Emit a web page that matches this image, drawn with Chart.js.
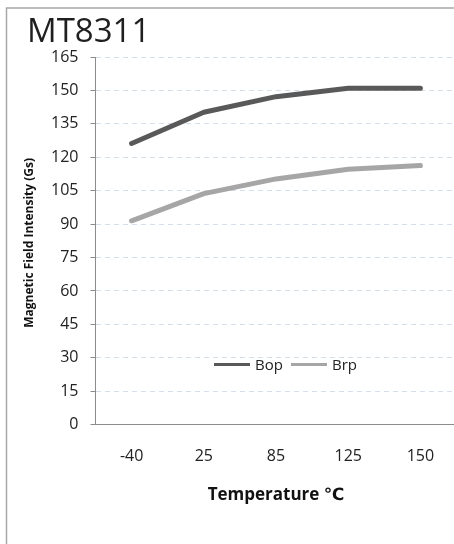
<!DOCTYPE html>
<html>
<head>
<meta charset="utf-8">
<script src="https://cdn.jsdelivr.net/npm/chart.js@4"></script>
<style>
html,body{margin:0;padding:0;background:#fff;overflow:hidden;width:454px;height:544px;}
canvas{display:block;}
</style>
</head>
<body>
<canvas id="c" width="460" height="544"></canvas>
<script>
const chartTitle = 'MT8311';
const xTitle = 'Temperature \u2103';
const yTitle = 'Magnetic Field Intensity (Gs)';
const categories = ['-40', '25', '85', '125', '150'];
const seriesNames = ['Bop', 'Brp'];
const bopValues = [126.2, 140.2, 147.2, 151, 151];
const brpValues = [91.5, 103.7, 110.3, 114.6, 116.3];
const yMin = 0, yMax = 165, yStep = 15;

const FONT = "'Open Sans', 'DejaVu Sans', sans-serif";

const decor = {
  id: 'decor',
  beforeDraw(chart) {
    const ctx = chart.ctx;
    ctx.save();
    ctx.fillStyle = '#fff';
    ctx.fillRect(0, 0, chart.width, chart.height);
    ctx.strokeStyle = '#a8a8a8';
    ctx.lineWidth = 1.5;
    ctx.strokeRect(6.5, 8, 500, 600);
    ctx.restore();
  },
  afterDraw(chart) {
    const ctx = chart.ctx;
    const a = chart.chartArea;
    ctx.save();
    // title
    ctx.fillStyle = '#1f1f1f';
    ctx.font = '33px ' + FONT;
    ctx.textBaseline = 'alphabetic';
    ctx.textAlign = 'left';
    ctx.fillText(chartTitle, 27, 42);
    // x title
    ctx.font = 'bold 17px ' + FONT;
    ctx.textAlign = 'center';
    ctx.textBaseline = 'middle';
    ctx.fillStyle = '#111';
    ctx.fillText(xTitle, 276, 495);
    // y title
    ctx.save();
    ctx.translate(30, (a.top + a.bottom) / 2 + 2);
    ctx.rotate(-Math.PI / 2);
    ctx.font = 'bold 12px ' + FONT;
    ctx.fillText(yTitle, 0, 0);
    ctx.restore();
    // legend
    const ly = 364.5;
    const items = chart.data.datasets.map(d => ({label: d.label, color: d.borderColor}));
    const pos = [214, 291];
    ctx.font = '15px ' + FONT;
    ctx.textAlign = 'left';
    ctx.textBaseline = 'middle';
    items.forEach((it, i) => {
      ctx.strokeStyle = it.color;
      ctx.lineWidth = 3;
      ctx.lineCap = 'butt';
      ctx.beginPath();
      ctx.moveTo(pos[i], ly);
      ctx.lineTo(pos[i] + 36, ly);
      ctx.stroke();
      ctx.fillStyle = '#222';
      ctx.fillText(it.label, pos[i] + 41, ly + 1);
    });
    ctx.restore();
  }
};

new Chart(document.getElementById('c'), {
  type: 'line',
  data: {
    labels: categories,
    datasets: [
      {label: seriesNames[0], data: bopValues, borderColor: '#595959', backgroundColor: '#595959'},
      {label: seriesNames[1], data: brpValues, borderColor: '#a6a6a6', backgroundColor: '#a6a6a6'}
    ]
  },
  options: {
    responsive: false,
    animation: false,
    devicePixelRatio: 1,
    layout: {padding: {left: 0, top: 57, right: 3.5, bottom: 0}},
    elements: {
      line: {borderWidth: 5, tension: 0, borderCapStyle: 'round', borderJoinStyle: 'round'},
      point: {radius: 0, hoverRadius: 0}
    },
    plugins: {legend: {display: false}, title: {display: false}, tooltip: {enabled: false}},
    scales: {
      x: {
        offset: true,
        grid: {display: false, drawTicks: false, tickLength: 0},
        border: {display: true, color: '#8c8c8c', width: 1},
        ticks: {color: '#222', font: {family: FONT, size: 16}, padding: 22, maxRotation: 0},
        afterFit(s) { s.height = 544 - 424.7; }
      },
      y: {
        min: yMin, max: yMax,
        grid: {color: '#d5dfe9', lineWidth: 1, drawTicks: true, tickLength: 5, tickColor: '#8c8c8c'},
        border: {display: true, color: '#8c8c8c', width: 1, dash: [5, 4]},
        ticks: {stepSize: yStep, color: '#222', font: {family: FONT, size: 16}, padding: 12},
        afterFit(s) { s.width = 95.5; }
      }
    }
  },
  plugins: [decor]
});
</script>
</body>
</html>
